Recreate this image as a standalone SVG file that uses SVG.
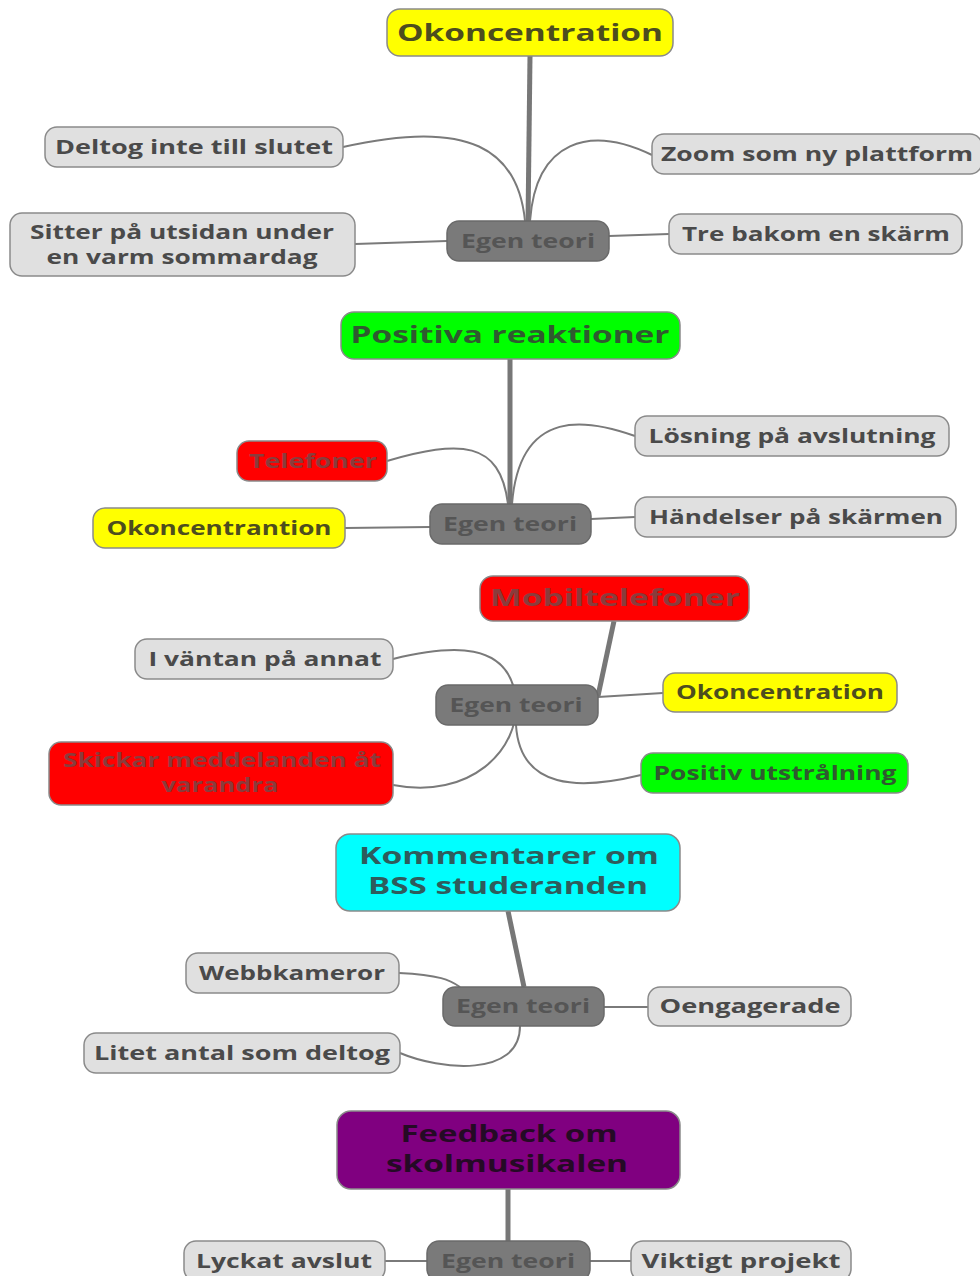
<svg xmlns="http://www.w3.org/2000/svg" width="980" height="1276" viewBox="0 0 980 1276">
<style>
.n rect{stroke:#8a8a8a;stroke-width:1.5}
.g rect{fill:#e0e0e0}
.e rect{fill:#7a7a7a;stroke:#6a6a6a}
text{font-family:"Open Sans","Noto Sans","DejaVu Sans",sans-serif;font-weight:bold;font-size:19px;text-anchor:middle;fill:#4a4a4a}
.e text{fill:#555555}
.r text{font-size:24px}
text.ty{fill:#4d4d1e}
text.tg{fill:#2f5a2f}
text.tr{fill:#8a3c3c}
text.tc{fill:#2e5c5c}
text.tp{fill:#250a25}
.c path{fill:none;stroke:#7a7a7a;stroke-width:2}
.c .t{stroke-width:5;stroke:#777777}
</style>
<rect width="980" height="1276" fill="#ffffff"/>
<g class="c" id="connectors">
<path class="t" d="M530,56 L528,222"/>
<path d="M343,147 C470,118 518,150 525,221"/>
<path d="M652,155 C590,125 536,140 530,221"/>
<path d="M355,244 L447,241"/>
<path d="M669,234 L609,236"/>
<path class="t" d="M510,359 L510,504"/>
<path d="M387,461 C460,440 500,440 508,504"/>
<path d="M635,436 C590,420 520,405 512,504"/>
<path d="M345,528 L430,527"/>
<path d="M635,517 L591,519"/>
<path class="t" d="M614,621 L598,696"/>
<path d="M393,659 C450,645 510,640 516,700 C520,750 470,800 393,785"/>
<path d="M516,725 C520,790 580,790 641,775"/>
<path d="M598,697 L663,693"/>
<path class="t" d="M508,911 L524,987"/>
<path d="M399,973 C440,975 450,980 460,987"/>
<path d="M648,1007 L604,1007"/>
<path d="M400,1053 C440,1070 520,1078 520,1026"/>
<path class="t" d="M508,1189 L508,1242"/>
<path d="M385,1261 L427,1261"/>
<path d="M590,1261 L631,1261"/>
</g>

<g id="n1" class="n r"><rect x="387" y="9" width="286" height="47" rx="13" fill="#ffff00"/><text class="ty" x="530" y="41" textLength="266" lengthAdjust="spacingAndGlyphs">Okoncentration</text></g>
<g id="n1a" class="n g"><rect x="45" y="127" width="298" height="40" rx="12"/><text x="194" y="154" textLength="278" lengthAdjust="spacingAndGlyphs">Deltog inte till slutet</text></g>
<g id="n1b" class="n g"><rect x="652" y="134" width="330" height="40" rx="12"/><text x="817" y="161" textLength="312" lengthAdjust="spacingAndGlyphs">Zoom som ny plattform</text></g>
<g id="n1c" class="n g"><rect x="10" y="213" width="345" height="63" rx="12"/><text x="182" y="239" textLength="304" lengthAdjust="spacingAndGlyphs">Sitter på utsidan under</text><text x="182" y="264" textLength="271" lengthAdjust="spacingAndGlyphs">en varm sommardag</text></g>
<g id="n1e" class="n e"><rect x="447" y="221" width="162" height="40" rx="12"/><text x="528" y="248" textLength="134" lengthAdjust="spacingAndGlyphs">Egen teori</text></g>
<g id="n1d" class="n g"><rect x="669" y="214" width="293" height="40" rx="12"/><text x="816" y="241" textLength="268" lengthAdjust="spacingAndGlyphs">Tre bakom en skärm</text></g>

<g id="n2" class="n r"><rect x="341" y="312" width="339" height="47" rx="13" fill="#00ff00"/><text class="tg" x="510" y="343" textLength="319" lengthAdjust="spacingAndGlyphs">Positiva reaktioner</text></g>
<g id="n2a" class="n"><rect x="237" y="441" width="150" height="40" rx="12" fill="#ff0000"/><text class="tr" x="313" y="468" textLength="128" lengthAdjust="spacingAndGlyphs">Telefoner</text></g>
<g id="n2b" class="n g"><rect x="635" y="416" width="314" height="40" rx="12"/><text x="792" y="443" textLength="287" lengthAdjust="spacingAndGlyphs">Lösning på avslutning</text></g>
<g id="n2c" class="n"><rect x="93" y="508" width="252" height="40" rx="12" fill="#ffff00"/><text class="ty" x="219" y="535" textLength="225" lengthAdjust="spacingAndGlyphs">Okoncentrantion</text></g>
<g id="n2e" class="n e"><rect x="430" y="504" width="161" height="40" rx="12"/><text x="510" y="531" textLength="134" lengthAdjust="spacingAndGlyphs">Egen teori</text></g>
<g id="n2d" class="n g"><rect x="635" y="497" width="321" height="40" rx="12"/><text x="796" y="524" textLength="294" lengthAdjust="spacingAndGlyphs">Händelser på skärmen</text></g>

<g id="n3" class="n r"><rect x="480" y="576" width="269" height="45" rx="13" fill="#ff0000"/><text class="tr" x="615" y="606" textLength="250" lengthAdjust="spacingAndGlyphs">Mobiltelefoner</text></g>
<g id="n3a" class="n g"><rect x="135" y="639" width="258" height="40" rx="12"/><text x="265" y="666" textLength="233" lengthAdjust="spacingAndGlyphs">I väntan på annat</text></g>
<g id="n3e" class="n e"><rect x="436" y="685" width="162" height="40" rx="12"/><text x="516" y="712" textLength="133" lengthAdjust="spacingAndGlyphs">Egen teori</text></g>
<g id="n3b" class="n"><rect x="663" y="673" width="234" height="39" rx="12" fill="#ffff00"/><text class="ty" x="780" y="699" textLength="208" lengthAdjust="spacingAndGlyphs">Okoncentration</text></g>
<g id="n3c" class="n"><rect x="49" y="742" width="344" height="63" rx="12" fill="#ff0000"/><text class="tr" x="222" y="767" textLength="318" lengthAdjust="spacingAndGlyphs">Skickar meddelanden åt</text><text class="tr" x="220" y="792" textLength="117" lengthAdjust="spacingAndGlyphs">varandra</text></g>
<g id="n3d" class="n"><rect x="641" y="753" width="267" height="40" rx="12" fill="#00ff00"/><text class="tg" x="775" y="780" textLength="243" lengthAdjust="spacingAndGlyphs">Positiv utstrålning</text></g>

<g id="n4" class="n r"><rect x="336" y="834" width="344" height="77" rx="14" fill="#00ffff"/><text class="tc" x="509" y="864" textLength="300" lengthAdjust="spacingAndGlyphs">Kommentarer om</text><text class="tc" x="508" y="894" textLength="280" lengthAdjust="spacingAndGlyphs">BSS studeranden</text></g>
<g id="n4a" class="n g"><rect x="186" y="953" width="213" height="40" rx="12"/><text x="292" y="980" textLength="186" lengthAdjust="spacingAndGlyphs">Webbkameror</text></g>
<g id="n4e" class="n e"><rect x="443" y="987" width="161" height="39" rx="12"/><text x="523" y="1013" textLength="134" lengthAdjust="spacingAndGlyphs">Egen teori</text></g>
<g id="n4b" class="n g"><rect x="648" y="987" width="203" height="39" rx="12"/><text x="750" y="1013" textLength="181" lengthAdjust="spacingAndGlyphs">Oengagerade</text></g>
<g id="n4c" class="n g"><rect x="84" y="1033" width="316" height="40" rx="12"/><text x="242" y="1060" textLength="296" lengthAdjust="spacingAndGlyphs">Litet antal som deltog</text></g>

<g id="n5" class="n r"><rect x="337" y="1111" width="343" height="78" rx="14" fill="#800080"/><text class="tp" x="509" y="1142" textLength="217" lengthAdjust="spacingAndGlyphs">Feedback om</text><text class="tp" x="507" y="1172" textLength="242" lengthAdjust="spacingAndGlyphs">skolmusikalen</text></g>
<g id="n5a" class="n g"><rect x="184" y="1241" width="201" height="40" rx="12"/><text x="284" y="1268" textLength="176" lengthAdjust="spacingAndGlyphs">Lyckat avslut</text></g>
<g id="n5e" class="n e"><rect x="427" y="1241" width="163" height="40" rx="12"/><text x="508" y="1268" textLength="134" lengthAdjust="spacingAndGlyphs">Egen teori</text></g>
<g id="n5b" class="n g"><rect x="631" y="1241" width="220" height="40" rx="12"/><text x="741" y="1268" textLength="199" lengthAdjust="spacingAndGlyphs">Viktigt projekt</text></g>
</svg>
